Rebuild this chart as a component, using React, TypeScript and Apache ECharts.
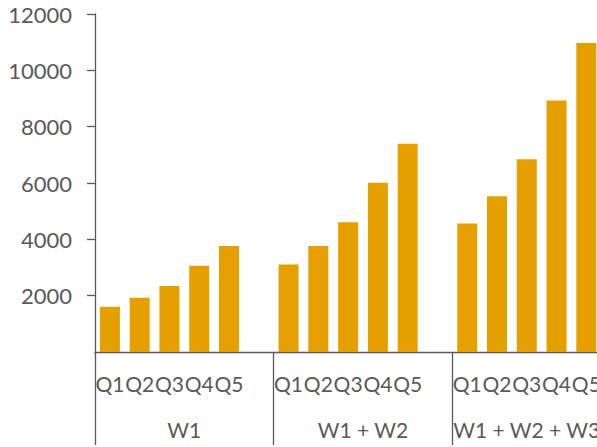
import React, { useEffect, useRef } from "react";
import * as echarts from "echarts";

const quarterLabels = ["Q1", "Q2", "Q3", "Q4", "Q5", "", "Q1", "Q2", "Q3", "Q4", "Q5", "", "Q1", "Q2", "Q3", "Q4", "Q5", ""];
const groupLabels = ["W1", "W1 + W2", "W1 + W2 + W3"];
const w1Values = [1605, 1925, 2340, 3060, 3760];
const w12Values = [3110, 3760, 4610, 6010, 7390];
const w123Values = [4565, 5530, 6840, 8930, 10970];

const AXIS_COLOR = "#595959";
const BAR_COLOR = "#E5A000";
const FONT = "Lato";

export default function App() {
  const ref = useRef<HTMLDivElement>(null);
  useEffect(() => {
    if (!ref.current) return;
    const chart = echarts.init(ref.current, undefined, { renderer: "svg" });
    const data: (number | null)[] = [
      ...w1Values, null,
      ...w12Values, null,
      ...w123Values, null,
    ];
    const groupData = groupLabels.map((g, i) =>
      i === groupLabels.length - 1
        ? { value: g, textStyle: { padding: [0, 30, 0, 0] } }
        : { value: g }
    );
    chart.setOption({
      animation: false,
      grid: { left: 95, right: 0, top: 14, bottom: 95, containLabel: false },
      xAxis: [
        {
          type: "category",
          data: quarterLabels,
          position: "bottom",
          axisLine: { show: true, lineStyle: { color: AXIS_COLOR, width: 1.3 } },
          axisTick: { show: false },
          axisLabel: { interval: 0, color: AXIS_COLOR, fontSize: 21, fontFamily: FONT, margin: 21 },
        },
        {
          type: "category",
          data: groupData,
          position: "bottom",
          axisLine: { show: false },
          axisTick: { show: true, length: 93, lineStyle: { color: AXIS_COLOR, width: 1.3 } },
          axisLabel: { interval: 0, color: AXIS_COLOR, fontSize: 21, fontFamily: FONT, margin: 67 },
        },
      ],
      yAxis: {
        type: "value",
        min: 0,
        max: 12000,
        interval: 2000,
        splitLine: { show: false },
        axisLine: { show: true, lineStyle: { color: AXIS_COLOR, width: 1.3 } },
        axisTick: { show: true, length: 8, lineStyle: { color: AXIS_COLOR, width: 1.3 } },
        axisLabel: {
          showMinLabel: false,
          color: AXIS_COLOR,
          fontSize: 22,
          fontFamily: FONT,
          margin: 23,
          formatter: (v: number) => String(v),
        },
      },
      series: [
        {
          type: "bar",
          xAxisIndex: 0,
          data,
          barWidth: 20,
          itemStyle: { color: BAR_COLOR },
        },
      ],
    });
    return () => chart.dispose();
  }, []);
  return (
    <div style={{ width: 597, height: 447, position: "absolute", left: 0, top: 0, overflow: "hidden" }}>
      <div ref={ref} style={{ width: 631, height: 447 }} />
    </div>
  );
}
